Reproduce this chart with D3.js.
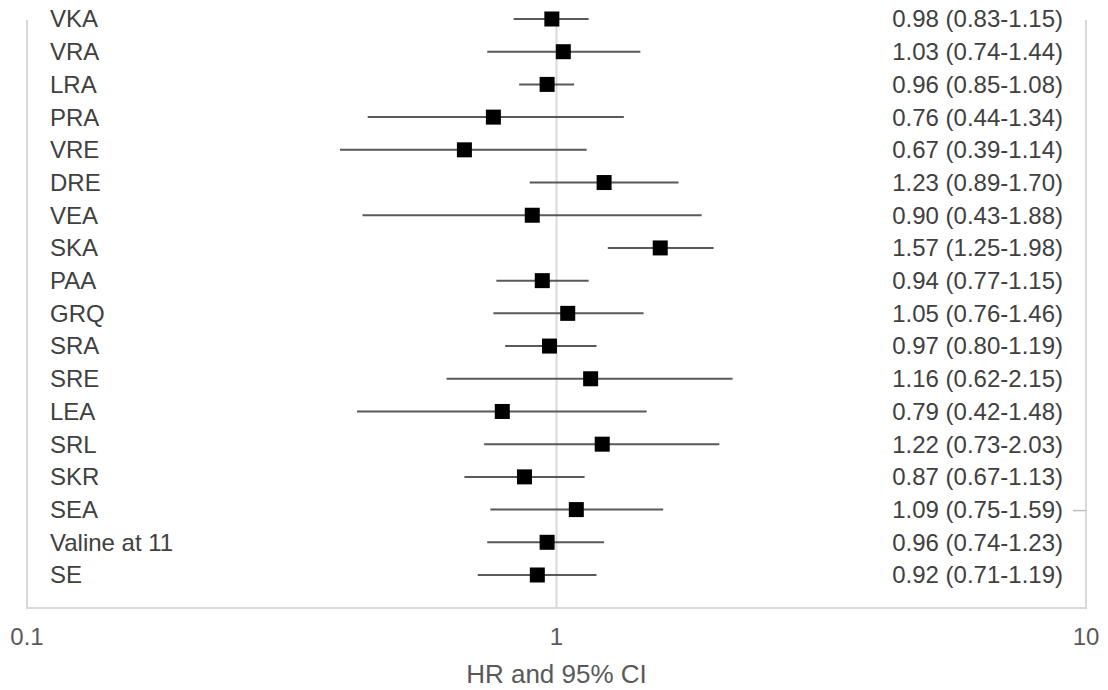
<!DOCTYPE html>
<html><head><meta charset="utf-8">
<script src="https://cdn.jsdelivr.net/npm/d3@7"></script>
<style>body{margin:0;background:#fff}svg{display:block}text{font-family:"Liberation Sans",Arial,sans-serif}</style>
</head><body><svg id="c" width="1108" height="690"></svg>
<script>
const categories = ["VKA","VRA","LRA","PRA","VRE","DRE","VEA","SKA","PAA","GRQ","SRA","SRE","LEA","SRL","SKR","SEA","Valine at 11","SE"];
const hr   = [0.98,1.03,0.96,0.76,0.67,1.23,0.90,1.57,0.94,1.05,0.97,1.16,0.79,1.22,0.87,1.09,0.96,0.92];
const low  = [0.83,0.74,0.85,0.44,0.39,0.89,0.43,1.25,0.77,0.76,0.80,0.62,0.42,0.73,0.67,0.75,0.74,0.71];
const high = [1.15,1.44,1.08,1.34,1.14,1.70,1.88,1.98,1.15,1.46,1.19,2.15,1.48,2.03,1.13,1.59,1.23,1.19];
const xTicks = [0.1,1,10];
const xTickLabels = ["0.1","1","10"];
const axisTitle = "HR and 95% CI";

const svg = d3.select("#c");
const x = d3.scaleLog().domain([0.1,10]).range([27,1086]);
const y = d3.scalePoint().domain(categories).range([19,575]);
const yTop = 20, yBottom = 608;
const grid = "#d9d9d9";

// frame
svg.append("line").attr("x1",x(0.1)).attr("x2",x(0.1)).attr("y1",yTop).attr("y2",yBottom).attr("stroke",grid).attr("stroke-width",2);
svg.append("line").attr("x1",x(10)).attr("x2",x(10)).attr("y1",yTop).attr("y2",yBottom).attr("stroke",grid).attr("stroke-width",2);
svg.append("line").attr("x1",x(1)).attr("x2",x(1)).attr("y1",yTop).attr("y2",yBottom).attr("stroke",grid).attr("stroke-width",2);
svg.append("line").attr("x1",x(0.1)-1).attr("x2",x(10)+1).attr("y1",yBottom).attr("y2",yBottom).attr("stroke",grid).attr("stroke-width",2);
// small stub near SEA row
svg.append("line").attr("x1",x(10)-13).attr("x2",x(10)).attr("y1",y("SEA")+1).attr("y2",y("SEA")+1).attr("stroke","#bfbfbf").attr("stroke-width",1.5);

const rows = categories.map((c,i)=>({c,hr:hr[i],lo:low[i],hi:high[i]}));
svg.selectAll("line.ci").data(rows).join("line").attr("class","ci")
  .attr("x1",d=>x(d.lo)).attr("x2",d=>x(d.hi)).attr("y1",d=>y(d.c)).attr("y2",d=>y(d.c))
  .attr("stroke","#595959").attr("stroke-width",2);
const s = 15;
svg.selectAll("rect.pt").data(rows).join("rect").attr("class","pt")
  .attr("x",d=>x(d.hr)-s/2).attr("y",d=>y(d.c)-s/2).attr("width",s).attr("height",s).attr("fill","#000");

svg.selectAll("text.lab").data(rows).join("text").attr("class","lab")
  .attr("x",50).attr("y",d=>y(d.c)).attr("dy","0.35em").attr("font-size",24).attr("fill","#404040").text(d=>d.c);
svg.selectAll("text.val").data(rows).join("text").attr("class","val")
  .attr("x",1063).attr("y",d=>y(d.c)).attr("dy","0.35em").attr("text-anchor","end").attr("font-size",24).attr("fill","#404040")
  .text(d=>`${d.hr.toFixed(2)} (${d.lo.toFixed(2)}-${d.hi.toFixed(2)})`);

svg.selectAll("text.tick").data(xTicks).join("text").attr("class","tick")
  .attr("x",d=>x(d)).attr("y",637).attr("dy","0.35em").attr("text-anchor","middle").attr("font-size",24).attr("fill","#595959")
  .text((d,i)=>xTickLabels[i]);
svg.append("text").attr("x",x(1)).attr("y",674).attr("dy","0.35em").attr("text-anchor","middle").attr("font-size",26).attr("fill","#595959").text(axisTitle);
</script></body></html>
